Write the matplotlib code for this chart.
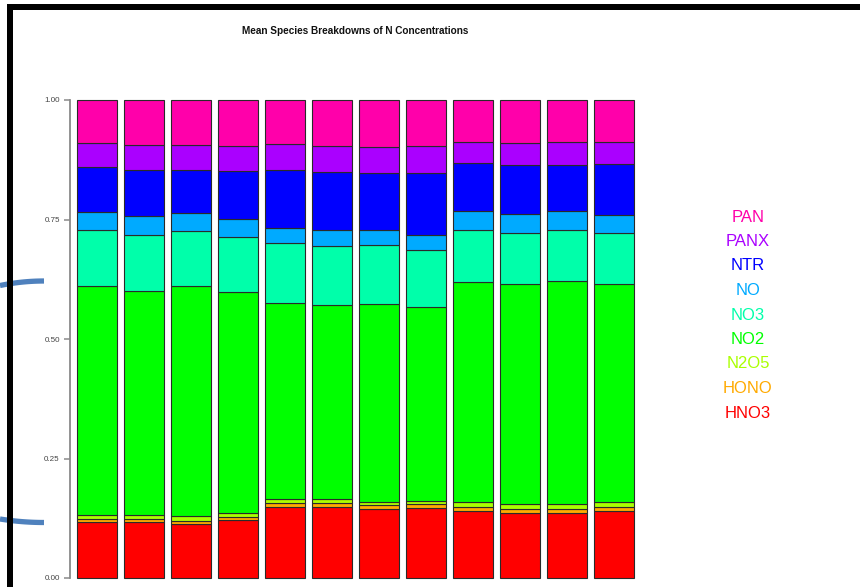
import matplotlib
matplotlib.use("Agg")
import matplotlib.pyplot as plt
from matplotlib.patches import Rectangle
from matplotlib.lines import Line2D
import numpy as np

# Species fractions per bar (stacked bottom to top)
species = ["HNO3", "HONO", "N2O5", "NO2", "NO3", "NO", "NTR", "PANX", "PAN"]
colors = ["#FF0000", "#FFAA00", "#AAFF00", "#00FF00", "#00FFAA",
          "#00AAFF", "#0000FF", "#AA00FF", "#FF00AA"]

HNO3 = [0.117, 0.117, 0.113, 0.121, 0.149, 0.149, 0.144, 0.146, 0.141, 0.137, 0.136, 0.140]
HONO = [0.006, 0.006, 0.007, 0.006, 0.008, 0.008, 0.008, 0.008, 0.008, 0.008, 0.009, 0.008]
N2O5 = [0.009, 0.008, 0.009, 0.009, 0.008, 0.008, 0.008, 0.008, 0.010, 0.010, 0.010, 0.010]
NO2 = [0.478, 0.470, 0.482, 0.462, 0.411, 0.406, 0.413, 0.405, 0.460, 0.460, 0.467, 0.458]
NO3 = [0.117, 0.117, 0.114, 0.116, 0.124, 0.124, 0.123, 0.119, 0.110, 0.107, 0.106, 0.105]
NO = [0.039, 0.039, 0.039, 0.038, 0.033, 0.033, 0.033, 0.032, 0.039, 0.040, 0.040, 0.039]
NTR = [0.093, 0.097, 0.089, 0.100, 0.121, 0.122, 0.119, 0.130, 0.100, 0.101, 0.097, 0.106]
PANX = [0.050, 0.052, 0.052, 0.052, 0.053, 0.054, 0.054, 0.055, 0.045, 0.047, 0.047, 0.047]
PAN = [0.091, 0.094, 0.095, 0.096, 0.093, 0.097, 0.098, 0.097, 0.087, 0.090, 0.088, 0.088]

series = [HNO3, HONO, N2O5, NO2, NO3, NO, NTR, PANX, PAN]
yticks = [0.0, 0.25, 0.5, 0.75, 1.0]
ytick_labels = ["0.00", "0.25", "0.50", "0.75", "1.00"]
title = "Mean Species Breakdowns of N Concentrations"

W, H = 860, 587
fig = plt.figure(figsize=(W / 100, H / 100), dpi=100)
fig.patch.set_facecolor("white")
plt.rcParams["font.family"] = ["Liberation Sans", "DejaVu Sans"]

# axes placement in pixels
x_axis_px = 69.5
first_center_px = 97.0
step_px = 47.0
right_px = 650.0
y0_px, y1_px = 578.0, 100.0
unit_px = y0_px - y1_px
ylo, yhi = -0.02, 1.02
ax_bottom_px = y0_px - ylo * unit_px  # pixel row of ylo
ax_top_px = y0_px - yhi * unit_px
xlo = -(first_center_px - x_axis_px) / step_px
xhi = (right_px - first_center_px) / step_px

ax = fig.add_axes([x_axis_px / W, (H - ax_bottom_px) / H,
                   (right_px - x_axis_px) / W, (ax_bottom_px - ax_top_px) / H])
ax.set_xlim(xlo, xhi)
ax.set_ylim(ylo, yhi)

n = len(HNO3)
x = np.arange(n)
bottom = np.zeros(n)
for vals, col in zip(series, colors):
    v = np.array(vals)
    ax.bar(x, v, width=0.84, bottom=bottom, color=col,
           edgecolor="#2a2a2a", linewidth=0.8)
    bottom += v

for s in ["top", "right", "bottom"]:
    ax.spines[s].set_visible(False)
ax.spines["left"].set_bounds(0, 1)
ax.spines["left"].set_color("#8a8a8a")
ax.spines["left"].set_linewidth(1.3)
ax.set_xticks([])
ax.set_yticks(yticks)
ax.set_yticklabels(ytick_labels)
ax.tick_params(axis="y", length=4, width=1.1, color="#8a8a8a",
               labelsize=5.8, labelcolor="#444444", pad=3)
ax.set_facecolor("none")

fig.text(355 / W, 1 - 31 / H, title, ha="center", va="center",
         fontsize=7.2, fontweight="bold", color="#111111")

# species labels, top to bottom
leg_x = 748
leg_y0 = 217
leg_dy = 24.5
for i, (name, col) in enumerate(zip(species[::-1], colors[::-1])):
    fig.text(leg_x / W, 1 - (leg_y0 + i * leg_dy) / H, name,
             ha="center", va="center", fontsize=12, color=col)

# blue bracket strokes on the left margin
def px_line(xs, ys, **kw):
    xs = np.asarray(xs, float) / W
    ys = 1 - np.asarray(ys, float) / H
    fig.add_artist(Line2D(xs, ys, transform=fig.transFigure, **kw))

t = np.linspace(0, 1, 30)
px_line(t * 44, 285.5 - 4.5 * (1 - (1 - t) ** 2), color="#4F81BD",
        linewidth=3.8, solid_capstyle="butt", zorder=5)
px_line(t * 44, 519.0 + 3.5 * (1 - (1 - t) ** 2), color="#4F81BD",
        linewidth=3.8, solid_capstyle="butt", zorder=5)

# black frame along the top and left edges
fig.add_artist(Rectangle((6.7 / W, 1 - 10.2 / H), 1, 6.5 / H,
                         transform=fig.transFigure, facecolor="black",
                         edgecolor="none", zorder=10))
fig.add_artist(Rectangle((6.7 / W, 0), 6.0 / W, 1 - 3.7 / H,
                         transform=fig.transFigure, facecolor="black",
                         edgecolor="none", zorder=10))

fig.savefig("out.png", dpi=100)
